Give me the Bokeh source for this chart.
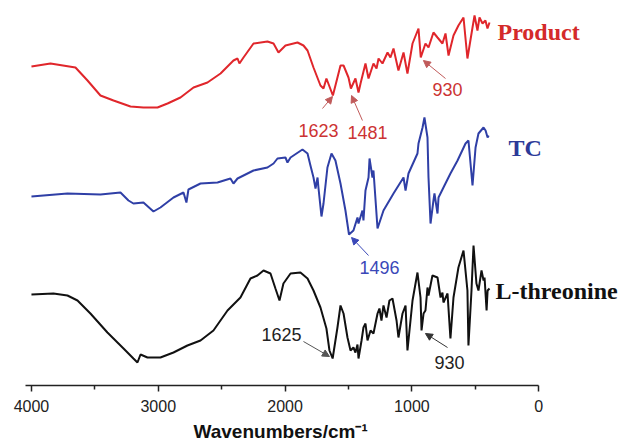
from bokeh.plotting import figure
from bokeh.models import Range1d, FixedTicker, Arrow, NormalHead, Title
from bokeh.core.properties import value
from bokeh.embed import file_html
from bokeh.resources import INLINE

# ---- data (wavenumber in cm-1, offset transmittance in arbitrary units) ----
product_wn = [4000, 3850, 3653, 3558, 3456, 3353, 3219, 3117, 3006, 2927, 2825, 2722, 2612, 2509,
              2407, 2375, 2360, 2328, 2249, 2139, 2091, 2052, 1997, 1902, 1855, 1823, 1776, 1721,
              1697, 1674, 1623, 1563, 1539, 1500, 1481, 1445, 1421, 1405, 1366, 1342, 1303, 1279,
              1263, 1232, 1192, 1169, 1145, 1106, 1066, 1035, 995, 948, 930, 893, 869, 830, 798,
              759, 735, 711, 672, 633, 593, 562, 522, 506, 483, 467, 443, 420, 404, 388]
product_t = [319, 322, 318, 305, 290, 285, 279, 278, 278, 282, 288, 298, 303, 312,
             325, 327, 322, 328, 342, 344, 342, 333, 340, 343, 340, 335, 318, 300,
             297, 307, 290, 320, 320, 308, 297, 307, 293, 302, 322, 307, 322, 317,
             327, 322, 333, 328, 337, 315, 333, 312, 342, 357, 328, 342, 338, 353, 348,
             342, 352, 330, 350, 360, 368, 327, 358, 370, 355, 368, 362, 365, 357, 363]

tc_wn = [4000, 3716, 3456, 3298, 3235, 3196, 3117, 3038, 2983, 2880, 2801, 2778, 2762, 2667,
         2533, 2431, 2407, 2375, 2249, 2139, 2091, 2060, 1997, 1981, 1957, 1863, 1823, 1800,
         1776, 1760, 1744, 1737, 1713, 1697, 1666, 1634, 1603, 1563, 1524, 1496, 1461, 1429,
         1421, 1390, 1382, 1366, 1342, 1334, 1311, 1303, 1271, 1224, 1145, 1066, 1050, 1027,
         956, 948, 916, 901, 877, 869, 853, 830, 822, 798, 790, 751, 696, 640, 577, 554, 522,
         498, 475, 435, 419, 403, 395]
tc_t = [189, 192, 191, 193, 185, 182, 183, 174, 178, 188, 193, 183, 196, 202,
        203, 207, 202, 207, 215, 218, 222, 227, 228, 223, 228, 236, 232, 220,
        208, 197, 208, 198, 169, 182, 218, 232, 225, 202, 175, 151, 155, 168,
        162, 175, 165, 195, 208, 227, 208, 215, 157, 175, 192, 208, 195, 212,
        232, 242, 258, 268, 248, 208, 162, 185, 192, 172, 188, 198, 212, 225, 242, 245, 200,
        238, 252, 258, 255, 248, 250]

thr_wn = [4000, 3827, 3716, 3637, 3535, 3401, 3274, 3196, 3164, 3140, 3085, 2983, 2880, 2770,
          2667, 2565, 2454, 2352, 2273, 2218, 2170, 2115, 2076, 2044, 2013, 1957, 1879, 1823,
          1776, 1721, 1674, 1650, 1625, 1587, 1563, 1539, 1508, 1484, 1461, 1445, 1429, 1421,
          1397, 1382, 1366, 1350, 1326, 1303, 1271, 1256, 1240, 1224, 1200, 1177, 1153, 1121,
          1106, 1074, 1050, 1035, 995, 956, 932, 924, 908, 893, 877, 869, 838, 798, 774, 759,
          751, 719, 696, 672, 633, 593, 562, 554, 530, 514, 491, 475, 451, 435, 427, 411, 403, 388]
thr_t = [91, 92, 90, 85, 72, 53, 37, 27, 23, 31, 28, 28, 33, 40,
         45, 55, 75, 88, 107, 110, 115, 112, 97, 85, 102, 112, 113, 107,
         95, 78, 57, 35, 27, 58, 80, 72, 48, 35, 38, 33, 41, 27,
         45, 58, 62, 45, 55, 52, 72, 77, 65, 80, 68, 85, 87, 65,
         48, 72, 80, 35, 85, 113, 88, 55, 72, 75, 98, 90, 110, 108, 88, 93,
         83, 92, 47, 88, 118, 135, 95, 40, 95, 140, 102, 95, 115, 105, 108, 75, 95, 97]

x_ticks = [0, 1000, 2000, 3000, 4000]
x_minor_ticks = [500, 1500, 2500, 3500]

RED = "#e0262b"
BLUE = "#2f3fa6"
BLACK = "#111111"

p = figure(width=620, height=446, output_backend="svg", toolbar_location=None,
           x_range=Range1d(4047, -645), y_range=Range1d(0, 377),
           y_axis_location=None, min_border=0)
p.min_border_left = 25
p.min_border_right = 0
p.min_border_top = 8
p.min_border_bottom = 61
p.outline_line_color = None
p.xgrid.grid_line_color = None
p.ygrid.grid_line_color = None
p.background_fill_color = "white"
p.border_fill_color = "white"

p.line(product_wn, product_t, line_color=RED, line_width=2)
p.line(tc_wn, tc_t, line_color=BLUE, line_width=2)
p.line(thr_wn, thr_t, line_color=BLACK, line_width=2)

ax = p.xaxis[0]
ax.ticker = FixedTicker(ticks=x_ticks, minor_ticks=x_minor_ticks)
ax.bounds = (0, 4047)
ax.axis_line_color = "#222222"
ax.axis_line_width = 1.6
ax.major_tick_line_color = "#222222"
ax.minor_tick_line_color = "#222222"
ax.major_tick_line_width = 1.5
ax.minor_tick_line_width = 1.5
ax.major_tick_in = 0
ax.major_tick_out = 6
ax.minor_tick_in = 0
ax.minor_tick_out = 4
ax.major_label_standoff = 8
ax.major_label_text_font = "Liberation Sans"
ax.major_label_text_font_size = "16px"
ax.major_label_text_color = "#222222"

# axis title, centred under the 4000..0 part of the axis
p.add_layout(Title(text="Wavenumbers/cm⁻¹", text_font="Liberation Sans",
                   text_font_style="bold", text_font_size="19px", text_color="#111111",
                   align="left", offset=168, standoff=9), "below")

serif = value("Liberation Serif")
sans = value("Liberation Sans")

# series names
p.text(x=[325], y=[354], text=["Product"], text_font=serif, text_font_style="bold",
       text_font_size="24px", text_color="#d42a2a", text_align="left", text_baseline="middle")
p.text(x=[238], y=[238], text=["TC"], text_font=serif, text_font_style="bold",
       text_font_size="24px", text_color="#2c3a98", text_align="left", text_baseline="middle")
p.text(x=[341], y=[95], text=["L-threonine"], text_font=serif, text_font_style="bold",
       text_font_size="24px", text_color=BLACK, text_align="left", text_baseline="middle")

# peak labels
p.text(x=[1737, 1350, 719], y=[255, 253, 296], text=["1623", "1481", "930"], text_font=sans,
       text_font_size="18px", text_color="#cc3333", text_align="center", text_baseline="middle")
p.text(x=[1256], y=[118], text=["1496"], text_font=sans,
       text_font_size="18px", text_color="#3a48b8", text_align="center", text_baseline="middle")
p.text(x=[2028, 703], y=[51, 23], text=["1625", "930"], text_font=sans,
       text_font_size="18px", text_color="#222222", text_align="center", text_baseline="middle")

def arrow(x0, y0, x1, y1, color):
    p.add_layout(Arrow(end=NormalHead(size=7, fill_color=color, line_color=color),
                       x_start=x0, y_start=y0, x_end=x1, y_end=y1,
                       line_color=color, line_width=1))

arrow(1705, 277, 1626, 289, "#c05a5a")
arrow(1390, 265, 1476, 290, "#c05a5a")
arrow(735, 307, 909, 325, "#c05a5a")
arrow(1342, 130, 1476, 148, "#3a48b8")
arrow(1855, 44, 1650, 29, "#555555")
arrow(719, 38, 893, 52, "#333333")

open("out.html", "w").write(file_html(p, INLINE))
